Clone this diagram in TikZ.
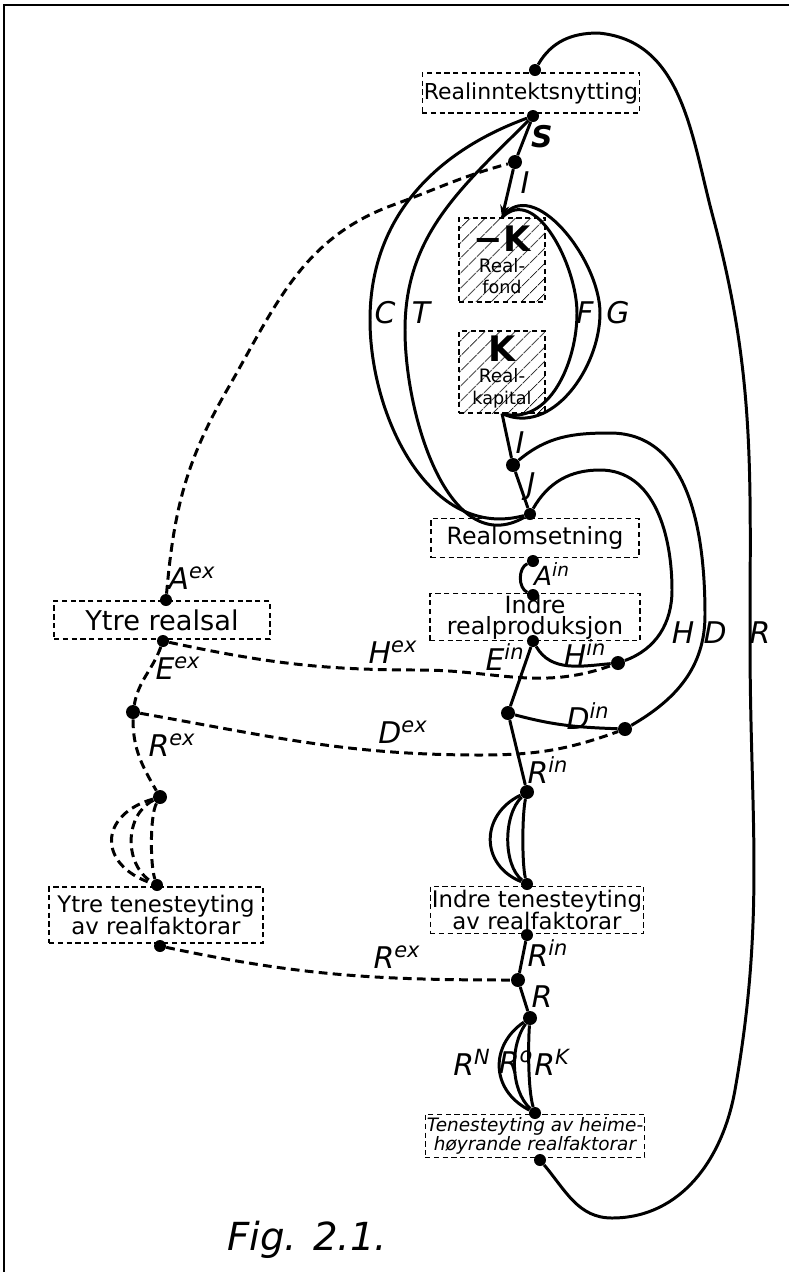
\documentclass[tikz,border=0pt]{standalone}
\usepackage{fontspec}
\setmainfont{DejaVu Sans}
\usetikzlibrary{arrows.meta, patterns.meta}
\tikzset{
  % dashed boxes
  box/.style={draw, dash pattern=on 3pt off 2pt, line width=0.6pt,
    align=center, inner sep=1pt, fill=white,
    font=\fontsize{12.5}{13}\selectfont},
  hatchbox/.style={draw, dash pattern=on 3pt off 2pt, line width=0.6pt,
    align=center, inner sep=0pt,
    pattern={Lines[angle=45,distance=6.5pt,line width=0.6pt]},
    minimum width=1.72cm},
  % flows
  flow/.style={line width=1.7pt},
  dflow/.style={line width=1.7pt, dash pattern=on 5pt off 3pt},
  dot/.style={circle, fill, inner sep=0pt, minimum size=0.28cm},
  blob/.style={circle, fill, inner sep=0pt, minimum size=0.24cm},
  % letters on the flows
  lab/.style={font=\fontsize{17}{17}\selectfont\itshape, inner sep=0pt},
}

\begin{document}
\begin{tikzpicture}[x=0.02cm, y=-0.02cm]
\useasboundingbox (0,0) rectangle (789,1272);

% frame
\draw[line width=1.2pt] (789,5) -- (4,5) -- (4,1272);

% ---------------- boxes
\node[box, minimum width=4.26cm, minimum height=0.8cm] (rin) at (531,93)
  {Realinntektsnytting};
\node[hatchbox, minimum height=1.68cm] (fond) at (502,260)
  {\fontsize{20}{20}\selectfont\bfseries −K\\
   \fontsize{10.5}{12.5}\selectfont\mdseries Real-\\fond};
\node[hatchbox, minimum height=1.64cm] (kapital) at (502,372)
  {\fontsize{20}{20}\selectfont\bfseries K\\
   \fontsize{10.5}{12.5}\selectfont\mdseries Real-\\kapital};
\node[box, minimum width=4.16cm, minimum height=0.78cm,
      font=\fontsize{13.5}{14}\selectfont] (oms) at (535,538) {Realomsetning};
\node[box, minimum width=4.2cm, minimum height=0.86cm,
      font=\fontsize{13.5}{12}\selectfont] (iprod) at (535,617)
  {Indre\\realproduksjon};
\node[box, minimum width=4.32cm, minimum height=0.76cm,
      font=\fontsize{15.5}{16}\selectfont] (ysal) at (162,620) {Ytre realsal};
\node[box, minimum width=4.28cm, minimum height=1.12cm,
      font=\fontsize{13}{13}\selectfont] (yten) at (156,915)
  {Ytre tenesteyting\\av realfaktorar};
\node[box, minimum width=4.22cm, minimum height=0.94cm,
      font=\fontsize{13}{13}\selectfont] (iten) at (537,910)
  {Indre tenesteyting\\av realfaktorar};
\node[box, minimum width=4.32cm, minimum height=0.86cm,
      font=\fontsize{10.5}{11}\selectfont\itshape] (hten) at (535,1136)
  {Tenesteyting av heime-\\høyrande realfaktorar};

% ---------------- blobs on the boxes
\node[blob] (b1) at (535,70) {};
\node[blob] (b2) at (533,116) {};
\node[blob] (b3) at (530,514) {};
\node[blob] (b4) at (533,561) {};
\node[blob] (b5) at (533,595) {};
\node[blob] (b6) at (533,641) {};
\node[blob] (b7) at (166,600) {};
\node[blob] (b8) at (163,641) {};
\node[blob] (b9) at (157,885) {};
\node[blob] (b10) at (160,946) {};
\node[blob] (b11) at (527,884) {};
\node[blob] (b12) at (527,935) {};
\node[blob] (b13) at (535,1113) {};
\node[blob] (b14) at (540,1160) {};

% ---------------- junctions
\node[dot] (dS) at (515,162) {};
\node[dot] (dJ) at (513,465) {};
\node[dot] (dHin) at (618,663) {};
\node[dot] (dDin) at (625,729) {};
\node[dot] (dE) at (508,713) {};
\node[dot] (dRin) at (527,792) {};
\node[dot] (dRx) at (518,980) {};
\node[dot] (dR) at (530,1018) {};
\node[dot] (dL1) at (133,712) {};
\node[dot] (dL2) at (160,797) {};

% ---------------- solid flows
\draw[flow] (b2) -- (dS);
\draw[flow, -{Stealth[length=7pt]}] (dS) -- (fond.north);
\draw[flow] (kapital.south) -- (dJ);
\draw[flow] (dJ) -- (b3);
\draw[flow] (b2) to[out=200,in=90] (370,320) to[out=-90,in=195] (b3);
\draw[flow] (b2) to[out=225,in=90] (405,330) to[out=-90,in=210] (b3);
\draw[flow] (fond.north) to[out=45,in=90] (577,313) to[out=-90,in=-15] (kapital.south);
\draw[flow] (fond.north) to[out=55,in=90] (600,313) to[out=-90,in=-25] (kapital.south);
\draw[flow] (b3) to[out=60,in=180] (600,470) to[out=0,in=90] (672,590)
  to[out=-90,in=20] (dHin);
\draw[flow] (dJ) to[out=40,in=180] (610,433) to[out=0,in=90] (705,615)
  to[out=-90,in=30] (dDin);
\draw[flow] (dHin) to[out=185,in=-60] (b6);
\draw[flow] (dDin) to[out=178,in=-15] (dE);
\draw[flow] (b4) .. controls (518,568) and (518,588) .. (b5);
\draw[flow] (b6) -- (dE);
\draw[flow] (dE) -- (dRin);
\draw[flow] (dRin) .. controls (480,815) and (480,865) .. (b11);
\draw[flow] (dRin) .. controls (503,815) and (503,865) .. (b11);
\draw[flow] (dRin) .. controls (522,815) and (522,865) .. (b11);
\draw[flow] (b12) -- (dRx);
\draw[flow] (dRx) -- (dR);
\draw[flow] (dR) .. controls (490,1045) and (490,1090) .. (b13);
\draw[flow] (dR) .. controls (510,1045) and (510,1090) .. (b13);
\draw[flow] (dR) .. controls (528,1045) and (528,1090) .. (b13);
\draw[flow] (b1) to[out=60,in=180] (598,33) to[out=-5,in=105] (713,217)
  to[out=-75,in=90] (750,640) to[out=-90,in=80] (735,1090)
  to[out=-100,in=0] (612,1218) to[out=180,in=-50] (b14);

% ---------------- dashed flows
\draw[dflow] (b7) to[out=85,in=240] (227,390) to[out=60,in=200] (393,205)
  to[out=20,in=195] (dS);
\draw[dflow] (b8) to[out=-12,in=180] (420,670) to[out=0,in=200] (dHin);
\draw[dflow] (b8) to[out=-110,in=80] (dL1);
\draw[dflow] (dL1) to[out=-10,in=180] (480,755) to[out=0,in=200] (dDin);
\draw[dflow] (dL1) to[out=-90,in=120] (dL2);
\draw[dflow] (dL2) .. controls (98,815) and (98,865) .. (b9);
\draw[dflow] (dL2) .. controls (124,815) and (124,865) .. (b9);
\draw[dflow] (dL2) .. controls (150,815) and (150,865) .. (b9);
\draw[dflow] (b10) to[out=-12,in=180] (dRx);

% ---------------- letters
\node[lab, font=\fontsize{17}{17}\selectfont\bfseries\itshape] (lS) at (542,137) {S};
\node[lab] (lI) at (525,183) {I};
\node[lab] (lC) at (385,313) {C};
\node[lab] (lT) at (421,313) {T};
\node[lab] (lF) at (585,313) {F};
\node[lab] (lG) at (618,313) {G};
\node[lab] (lI2) at (520,443) {I};
\node[lab] (lJ) at (531,487) {J};
\node[lab] (lH) at (683,633) {H};
\node[lab] (lD) at (715,633) {D};
\node[lab] (lR) at (760,633) {R};
\node[lab] (lAex) at (192,578) {A\textsuperscript{ex}};
\node[lab, font=\fontsize{15}{15}\selectfont\itshape] (lAin) at (552,574) {A\textsuperscript{in}};
\node[lab] (lHex) at (393,652) {H\textsuperscript{ex}};
\node[lab] (lEin) at (505,657) {E\textsuperscript{in}};
\node[lab] (lHin) at (585,653) {H\textsuperscript{in}};
\node[lab] (lEex) at (178,668) {E\textsuperscript{ex}};
\node[lab] (lRex) at (172,745) {R\textsuperscript{ex}};
\node[lab] (lDex) at (403,732) {D\textsuperscript{ex}};
\node[lab] (lDin) at (588,716) {D\textsuperscript{in}};
\node[lab] (lRin) at (548,770) {R\textsuperscript{in}};
\node[lab] (lRin2) at (548,953) {R\textsuperscript{in}};
\node[lab] (lRex2) at (397,957) {R\textsuperscript{ex}};
\node[lab] (lR2) at (542,997) {R};
\node[lab] (lRN) at (472,1062) {R\textsuperscript{N}};
\node[lab] (lRO) at (516,1062) {R\textsuperscript{o}};
\node[lab] (lRK) at (552,1062) {R\textsuperscript{K}};

\node[font=\fontsize{22}{22}\selectfont\itshape] (cap) at (307,1240) {Fig. 2.1.};
\end{tikzpicture}
\end{document}
